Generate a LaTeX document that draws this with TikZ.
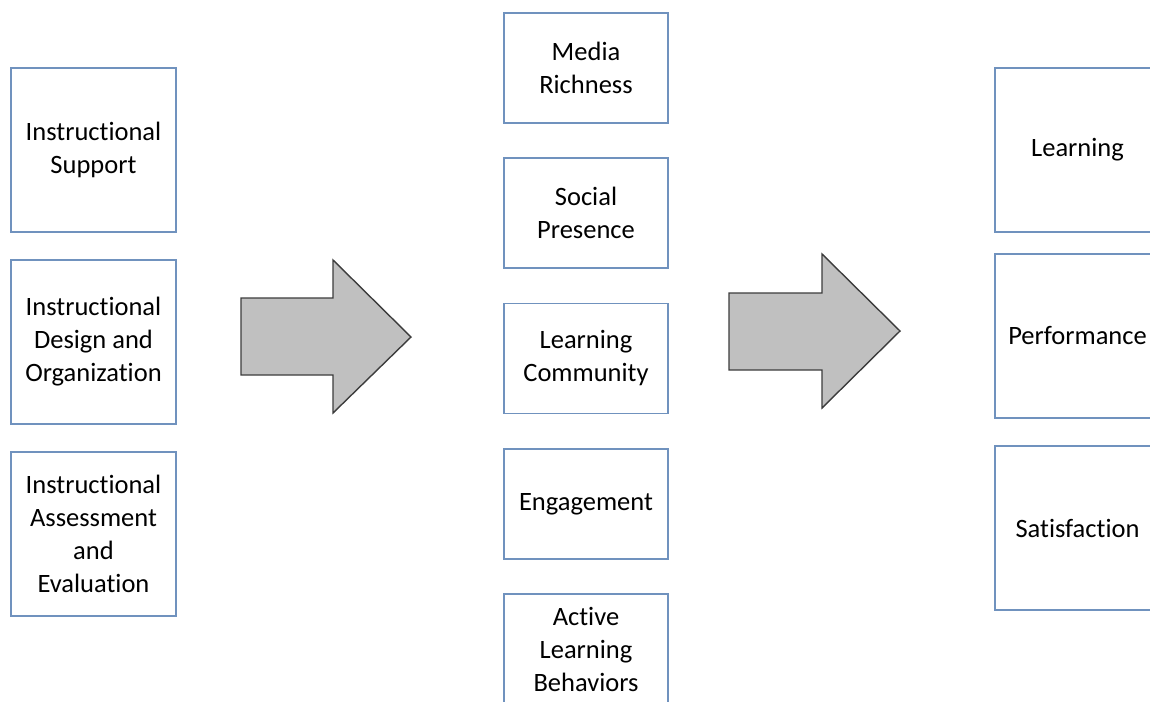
\documentclass[tikz,border=0pt]{standalone}
\usepackage{fontspec}
\setmainfont{Carlito}[Ligatures={NoCommon}]
\usetikzlibrary{positioning}

\definecolor{boxblue}{RGB}{112,146,190}
\definecolor{arrowgray}{RGB}{192,192,192}
\definecolor{arrowline}{RGB}{60,60,60}

\tikzset{
	factor/.style={draw=boxblue, line width=1.4pt, fill=white, align=center,
		minimum width=165pt, font=\fontsize{26.5}{33}\selectfont},
	tallbox/.style={factor, minimum height=164pt},
	midbox/.style={factor, minimum width=164pt, minimum height=110pt},
	bigarrow/.style={draw=arrowline, fill=arrowgray, line width=1.4pt, line join=miter}
}

\begin{document}
\begin{tikzpicture}[x=1pt, y=-1pt]
		\useasboundingbox (0,0) rectangle (1150,701);
		\clip (0,0) rectangle (1150,701);
		% inputs
		\node[tallbox] (support) at (93.5,150) {Instructional\\Support};
		\node[tallbox] (design) at (93.5,342) {Instructional\\Design and\\Organization};
		\node[tallbox] (assess) at (93.5,534) {Instructional\\Assessment\\and\\Evaluation};
		% mediators
		\node[midbox] (media) at (586,68) {Media\\Richness};
		\node[midbox] (social) at (586,213) {Social\\Presence};
		\node[midbox] (community) at (586,358.5) {Learning\\Community};
		\node[midbox] (engage) at (586,504) {Engagement};
		\node[midbox] (active) at (586,649) {Active\\Learning\\Behaviors};
		% outcomes
		\node[tallbox] (learning) at (1077.5,150) {Learning};
		\node[tallbox] (perform) at (1077.5,336) {Performance};
		\node[tallbox] (satisfy) at (1077.5,528) {Satisfaction};
		% arrows
		\draw[bigarrow] (241,298) -- (333,298) -- (333,260) -- (411,337) -- (333,413) -- (333,375) -- (241,375) -- cycle;
		\draw[bigarrow] (729,293) -- (822,293) -- (822,254) -- (900,331) -- (822,408) -- (822,370) -- (729,370) -- cycle;
	\end{tikzpicture}
\end{document}
